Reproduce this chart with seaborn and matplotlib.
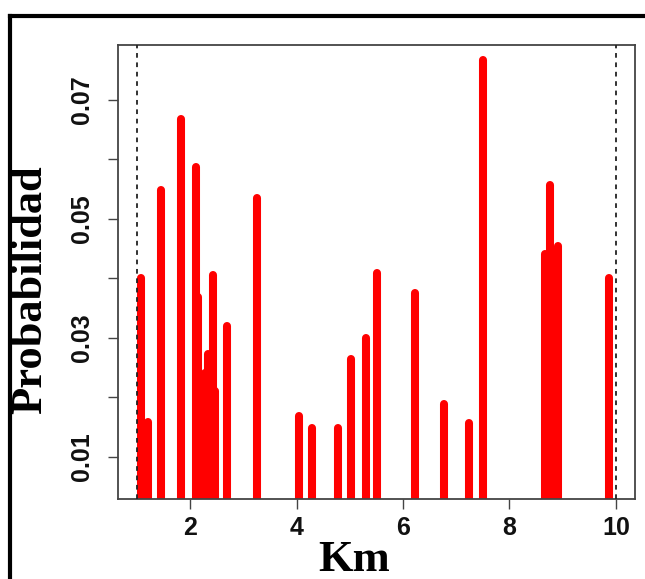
import numpy as np
import pandas as pd
import matplotlib
matplotlib.use("Agg")
import matplotlib.pyplot as plt
import seaborn as sns
from matplotlib.lines import Line2D

# ---- data ----
km = [1.07, 1.20, 1.45, 1.82, 2.10, 2.15, 2.28, 2.33, 2.43, 2.47, 2.69,
      3.25, 4.04, 4.29, 4.78, 5.02, 5.31, 5.51, 6.22, 6.77, 7.23, 7.50,
      8.66, 8.77, 8.92, 9.87]
prob = [0.0401, 0.0158, 0.0548, 0.0667, 0.0587, 0.0369, 0.0240, 0.0272,
        0.0406, 0.0210, 0.0320, 0.0535, 0.0168, 0.0148, 0.0148, 0.0265,
        0.0299, 0.0409, 0.0376, 0.0188, 0.0156, 0.0766, 0.0440, 0.0557,
        0.0454, 0.0401]
x_ticks = [2, 4, 6, 8, 10]
y_ticks = [0.01, 0.02, 0.03, 0.04, 0.05, 0.06, 0.07]
y_labels = ["0.01", "", "0.03", "", "0.05", "", "0.07"]
ref_lines = [1, 10]

sns.set_theme(style="white")
plt.rcParams["font.family"] = ["Liberation Sans", "DejaVu Sans"]
plt.rcParams["text.color"] = "black"
plt.rcParams["xtick.color"] = "black"
plt.rcParams["ytick.color"] = "black"

W, H = 645, 579
fig = plt.figure(figsize=(W / 100, H / 100), dpi=100)
ax = fig.add_axes([118 / W, 1 - 499 / H, (635 - 118) / W, (499 - 45) / H])

# spikes (R type="h") built as a long table: each spike is one unit from 0 to its value
n = len(km)
df = pd.DataFrame({
    "id": np.repeat(np.arange(n), 2),
    "Km": np.repeat(km, 2),
    "Probabilidad": np.ravel(np.column_stack([np.zeros(n), prob])),
})
sns.lineplot(data=df, x="Km", y="Probabilidad", units="id", estimator=None,
             sort=False, color="#ff0000", linewidth=5.8,
             solid_capstyle="round", legend=False, ax=ax)

for v in ref_lines:
    ax.axvline(v, color="#222222", linewidth=1.3, linestyle=(0, (2.6, 2.6)), zorder=5)

ax.set_xlim(0.64, 10.36)
ax.set_ylim(0.0029, 0.0792)
ax.set_xticks(x_ticks)
ax.set_xticklabels([str(t) for t in x_ticks], fontsize=18, weight="bold", color="#111111")
ax.set_yticks(y_ticks)
ax.set_yticklabels(y_labels, rotation=90, va="center", fontsize=18, weight="bold",
                   color="#111111")
ax.tick_params(axis="both", length=7.5, width=1.0, color="#444444",
               direction="out", bottom=True, left=True)
ax.tick_params(axis="x", pad=5)
ax.tick_params(axis="y", pad=10)
for s in ax.spines.values():
    s.set_color("#444444")
    s.set_linewidth(1.3)
ax.set_xlabel("")
ax.set_ylabel("")

fig.text(30 / W, 1 - 290 / H, "Probabilidad", rotation=90, ha="center", va="center",
         family=["Liberation Serif", "DejaVu Serif"], weight="bold", size=32, color="black")
fig.text(354 / W, 1 - 560 / H, "Km", ha="center", va="center",
         family=["Liberation Serif", "DejaVu Serif"], weight="bold", size=32, color="black")

# outer black frame (cropped on right and bottom)
fig.add_artist(Line2D([10 / W, 10 / W], [0, 1 - 16 / H], transform=fig.transFigure,
                      color="black", linewidth=3, solid_capstyle="projecting"))
fig.add_artist(Line2D([10 / W, 1], [1 - 16 / H, 1 - 16 / H], transform=fig.transFigure,
                      color="black", linewidth=3, solid_capstyle="projecting"))

fig.savefig("out.png", dpi=100)
